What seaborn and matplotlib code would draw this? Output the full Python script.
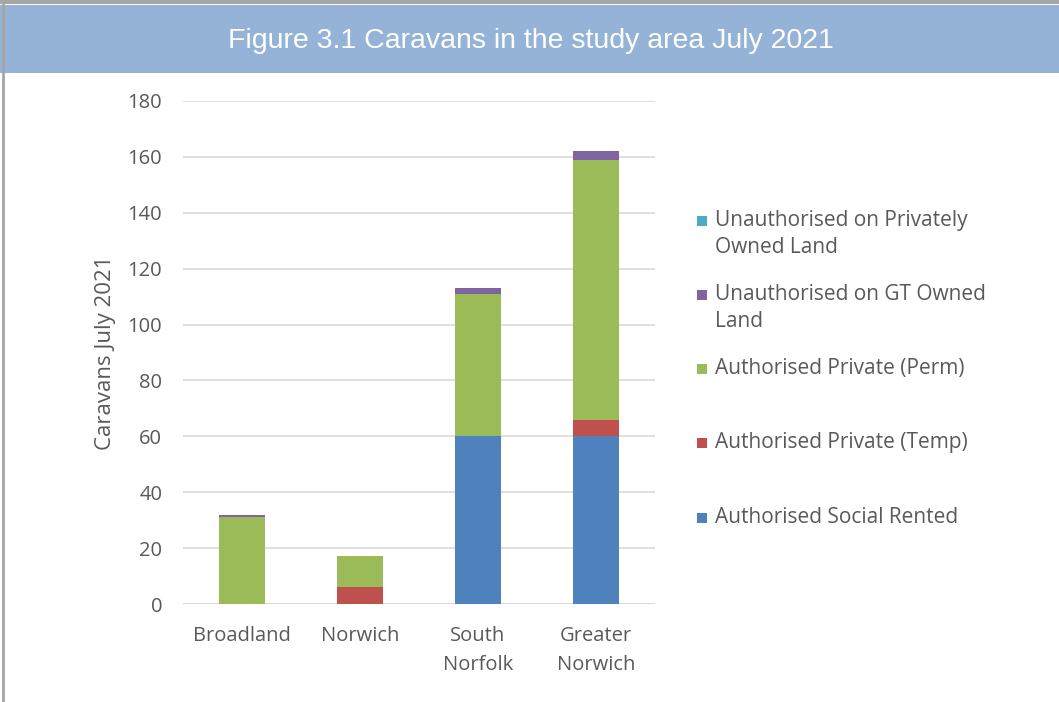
import matplotlib
matplotlib.use('Agg')
import matplotlib.pyplot as plt
import seaborn as sns
import pandas as pd
from matplotlib.patches import Rectangle

# data
areas = ['Broadland', 'Norwich', 'South\nNorfolk', 'Greater\nNorwich']
social_rented = [0, 0, 60, 60]
private_temp = [0, 6, 0, 6]
private_perm = [31, 11, 51, 93]
unauth_gt = [1, 0, 2, 3]
unauth_private = [0, 0, 0, 0]

series = [
    ('Authorised Social Rented', social_rented, '#4F81BD'),
    ('Authorised Private (Temp)', private_temp, '#C0504D'),
    ('Authorised Private (Perm)', private_perm, '#9BBB59'),
    ('Unauthorised on GT Owned\nLand', unauth_gt, '#8064A2'),
    ('Unauthorised on Privately\nOwned Land', unauth_private, '#4BACC6'),
]

sns.set_theme(style='white')
plt.rcParams['font.family'] = ['Open Sans', 'DejaVu Sans']
grey = '#595959'

fig = plt.figure(figsize=(10.59, 7.02), dpi=100)

# title band and frame
fig.patches.append(Rectangle((0, 1 - 73 / 702), 1, 68 / 702, transform=fig.transFigure,
                             facecolor='#95B3D7', edgecolor='none', zorder=0))
fig.add_artist(plt.Line2D([0, 1], [1 - 2 / 702, 1 - 2 / 702], transform=fig.transFigure,
                          color='#A6A6A6', linewidth=3))
fig.add_artist(plt.Line2D([3 / 1059, 3 / 1059], [0, 1], transform=fig.transFigure,
                          color='#A6A6A6', linewidth=2))
fig.text(531 / 1059, 1 - 41 / 702, 'Figure 3.1 Caravans in the study area July 2021',
         ha='center', va='center', color='white', fontsize=20.5, family='Liberation Sans')

ax = fig.add_axes([183 / 1059, 1 - 604 / 702, 472 / 1059, 503 / 702])

df = pd.DataFrame({'area': areas})
bottom = [0] * len(areas)
for label, values, color in series:
    df['value'] = values
    sns.barplot(data=df, x='area', y='value', color=color, width=0.39,
                bottom=bottom, ax=ax, saturation=1, linewidth=0, zorder=3)
    bottom = [b + v for b, v in zip(bottom, values)]

ax.set_ylim(0, 180)
ax.set_yticks(range(0, 181, 20))
ax.yaxis.grid(True, color='#D9D9D9', linewidth=1.2, zorder=0)
ax.set_axisbelow(True)
for s in ax.spines.values():
    s.set_visible(False)
ax.axhline(0, color='#D9D9D9', linewidth=1.2, zorder=1)
ax.tick_params(axis='both', length=0, labelsize=14.5, labelcolor=grey)
ax.tick_params(axis='x', pad=16)
ax.tick_params(axis='y', pad=15)
for t in ax.get_xticklabels():
    t.set_linespacing(1.6)
ax.set_xlabel('')
ax.set_ylabel('Caravans July 2021', fontsize=16, color=grey, labelpad=8)

# legend drawn like the Excel one
legend_rows = [
    (series[4], 221),
    (series[3], 295),
    (series[2], 369),
    (series[1], 443),
    (series[0], 518),
]
for (label, values, color), ypix in legend_rows:
    fig.patches.append(Rectangle((697 / 1059, 1 - (ypix + 5) / 702), 10 / 1059, 10 / 702,
                                 transform=fig.transFigure, facecolor=color, edgecolor='none'))
    fig.text(715 / 1059, 1 - (ypix - 11) / 702, label, ha='left', va='top', fontsize=15,
             color=grey, linespacing=1.35)

fig.savefig('out.png', dpi=100)
